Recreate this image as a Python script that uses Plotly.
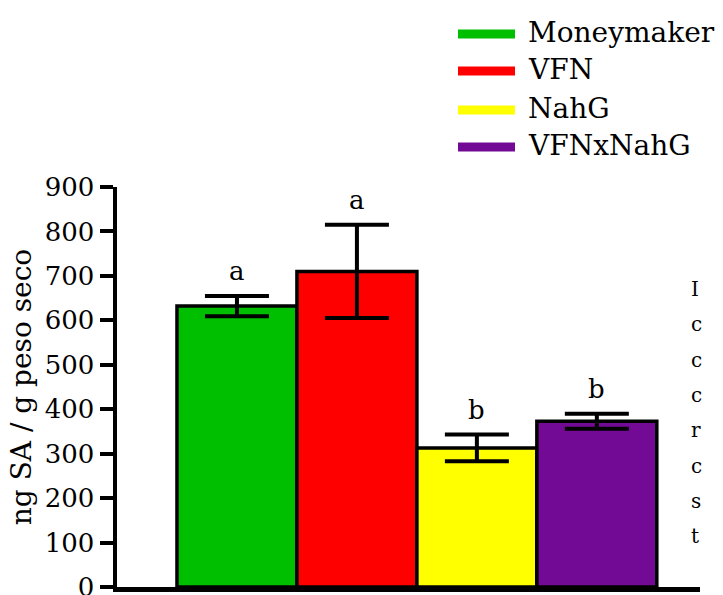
import plotly.graph_objects as go

# ---- data ----
genotypes = ["Moneymaker", "VFN", "NahG", "VFNxNahG"]
sa_values = [632, 710, 313, 373]
sa_errors = [23, 105, 30, 17]
letters = ["a", "a", "b", "b"]
bar_colors = ["#00BF00", "#FF0000", "#FFFF00", "#730A96"]
y_ticks = [0, 100, 200, 300, 400, 500, 600, 700, 800, 900]
side_fragments = ["I", "c", "c", "c", "r", "c", "s", "t"]

W, H = 723, 595
# plot area in page pixels: x 117..700, y 187..587
L, T = 117, 187
R = W - 700
B = H - 587
PW, PH = W - L - R, H - T - B
FONT = "DejaVu Serif"

def px_x(p):
    return (p - L) / PW

def px_y(p):
    return (H - B - p) / PH

fig = go.Figure()
xs = list(range(len(genotypes)))
fig.add_trace(go.Bar(
    x=xs, y=sa_values, width=1,
    marker=dict(color=bar_colors, line=dict(color="black", width=3.5)),
    error_y=dict(type="data", array=sa_errors, visible=True,
                 color="black", thickness=4, width=32),
    showlegend=False, hoverinfo="skip",
))

annotations = []
for i, (v, e, lt) in enumerate(zip(sa_values, sa_errors, letters)):
    annotations.append(dict(x=i, y=v + e, text=lt, showarrow=False,
                            xref="x", yref="y", yanchor="bottom", yshift=8,
                            font=dict(family=FONT, size=26, color="black")))

shapes = []
legend_rows = [34, 71, 110, 147]
for name, col, py in zip(genotypes, bar_colors, legend_rows):
    shapes.append(dict(type="rect", xref="paper", yref="paper",
                       x0=px_x(458), x1=px_x(515), y0=px_y(py + 4.5), y1=px_y(py - 4.5),
                       fillcolor=col, line=dict(width=0)))
    annotations.append(dict(x=px_x(526), y=px_y(py - 2), xref="paper", yref="paper",
                            text=name, showarrow=False, xanchor="left", yanchor="middle",
                            font=dict(family=FONT, size=28, color="black")))

for k, ch in enumerate(side_fragments):
    annotations.append(dict(x=px_x(689), y=px_y(289 + k * 35.3), xref="paper", yref="paper",
                            text=ch, showarrow=False, xanchor="left", yanchor="middle",
                            font=dict(family=FONT, size=20, color="black")))

fig.update_layout(
    width=W, height=H,
    margin=dict(l=L, r=R, t=T, b=B, pad=0, autoexpand=False),
    paper_bgcolor="white", plot_bgcolor="white",
    bargap=0,
    font=dict(family=FONT, color="black"),
    annotations=annotations, shapes=shapes,
    xaxis=dict(range=[-1, 3.86], showticklabels=False, ticks="", showgrid=False,
               zeroline=False, showline=True, linecolor="black", linewidth=4.5,
               automargin=False),
    yaxis=dict(range=[0, 900], tickvals=y_ticks, ticks="outside", ticklen=13,
               tickwidth=4, tickcolor="black", showgrid=False, zeroline=False,
               showline=True, linecolor="black", linewidth=4.5, automargin=False,
               ticklabeloverflow="allow",
               tickfont=dict(family=FONT, size=26, color="black"),
               title=dict(text="ng SA / g peso seco", standoff=6,
                          font=dict(family=FONT, size=28, color="black"))),
)

fig.write_html("out.html",
               config={"displayModeBar": False, "staticPlot": True},
               post_script="document.body.style.margin='0';document.body.style.overflow='hidden';")
